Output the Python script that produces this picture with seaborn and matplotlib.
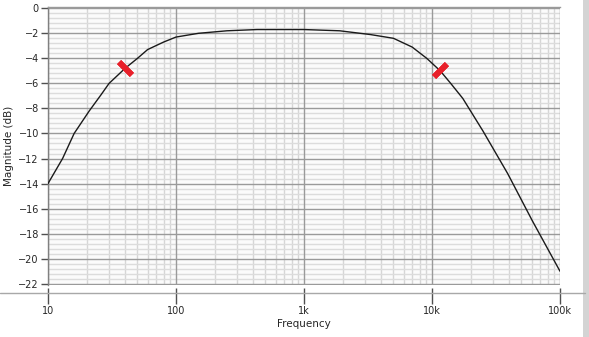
import numpy as np
import pandas as pd
import matplotlib
matplotlib.use('Agg')
import matplotlib.pyplot as plt
import seaborn as sns
from matplotlib.ticker import FixedLocator, NullFormatter, NullLocator
from matplotlib.markers import MarkerStyle
from matplotlib.lines import Line2D
from matplotlib.patches import Rectangle

# Magnitude response
freq_hz = [10, 13, 16, 21, 26, 30, 40, 50, 60, 80, 100, 150, 250, 430, 1000,
           1900, 3300, 5000, 7000, 9100, 11600, 14000, 17400, 25000, 39000,
           61000, 100000]
mag_db = [-14.0, -12.0, -10.0, -8.2, -6.9, -6.0, -4.8, -4.0, -3.3, -2.7, -2.3,
          -2.0, -1.8, -1.7, -1.7, -1.8, -2.1, -2.4, -3.1, -4.0, -5.0, -6.0,
          -7.2, -9.8, -13.2, -17.0, -21.0]

# -3 dB cursor markers (red dashes)
cursor_hz = [40, 11600]
cursor_db = [-4.8, -4.9]
cursor_angle = [45, -45]

x_ticks = [10, 100, 1000, 10000, 100000]
x_tick_labels = ['10', '100', '1k', '10k', '100k']
y_ticks = list(range(0, -23, -2))

df = pd.DataFrame({'Frequency': freq_hz, 'Magnitude': mag_db})

sns.set_style('white')
plt.rcParams['font.family'] = ['DejaVu Sans']

fig = plt.figure(figsize=(5.89, 3.37), dpi=100)
fig.patch.set_facecolor('white')
W, H = 589, 337
ax = fig.add_axes([48 / W, (H - 285) / H, (560 - 48) / W, (285 - 7) / H])
ax.set_facecolor('#fbfbfb')

ax.set_xscale('log')
ax.set_xlim(10, 100000)
ax.set_ylim(-22.1, 0.1)

# grid: minor lines first, major lines on top
minor_x = [m * 10 ** d for d in range(1, 5) for m in range(2, 10)]
minor_y = [v for v in np.arange(0, -22.2, -0.4) if abs(v / 2 - round(v / 2)) > 1e-6]
for v in minor_x:
    ax.axvline(v, color='#d6d6d6', linewidth=1.0, zorder=1)
for v in minor_y:
    ax.axhline(v, color='#dcdcdc', linewidth=1.0, zorder=1)
for v in x_ticks:
    ax.axvline(v, color='#9a9a9a', linewidth=1.0, zorder=2)
for v in y_ticks:
    ax.axhline(v, color='#9a9a9a', linewidth=1.0, zorder=2)

sns.lineplot(data=df, x='Frequency', y='Magnitude', ax=ax, color='#1a1a1a',
             linewidth=1.0, zorder=5)

for f, m, a in zip(cursor_hz, cursor_db, cursor_angle):
    ax.plot([f], [m], marker=MarkerStyle((2, 2, a), capstyle='round'),
            markersize=13, markeredgewidth=4, color='#e8202a', zorder=6)

ax.xaxis.set_major_locator(FixedLocator(x_ticks))
ax.set_xticklabels(x_tick_labels)
ax.xaxis.set_minor_locator(NullLocator())
ax.xaxis.set_minor_formatter(NullFormatter())
ax.set_yticks(y_ticks)
ax.yaxis.set_minor_locator(NullLocator())
ax.grid(False)

ax.spines['right'].set_visible(False)
ax.spines['bottom'].set_visible(False)
ax.spines['bottom'].set_position(('outward', 8))
ax.spines['top'].set_color('#9a9a9a')
ax.spines['top'].set_linewidth(1.0)
ax.spines['left'].set_color('#808080')
ax.spines['left'].set_linewidth(1.0)

ax.tick_params(axis='y', which='major', direction='out', length=5, width=1,
               color='#505050', labelsize=7, pad=1.5, left=True)
ax.tick_params(axis='x', which='major', direction='inout', length=12, width=1,
               color='#505050', labelsize=7, pad=1, bottom=True)

ax.set_xlabel('Frequency', fontsize=7.5, labelpad=2)
ax.set_ylabel('Magnitude (dB)', fontsize=7.5, labelpad=3)

# separator line under the plot and window edge on the right
fig.add_artist(Line2D([0, 585 / W], [(H - 293) / H] * 2, color='#a8a8a8',
                      linewidth=1.0, transform=fig.transFigure))
fig.add_artist(Rectangle((583 / W, 0), 6 / W, 1, transform=fig.transFigure,
                         facecolor='#d4d4d4', edgecolor='none'))

fig.savefig('out.png', dpi=100)
